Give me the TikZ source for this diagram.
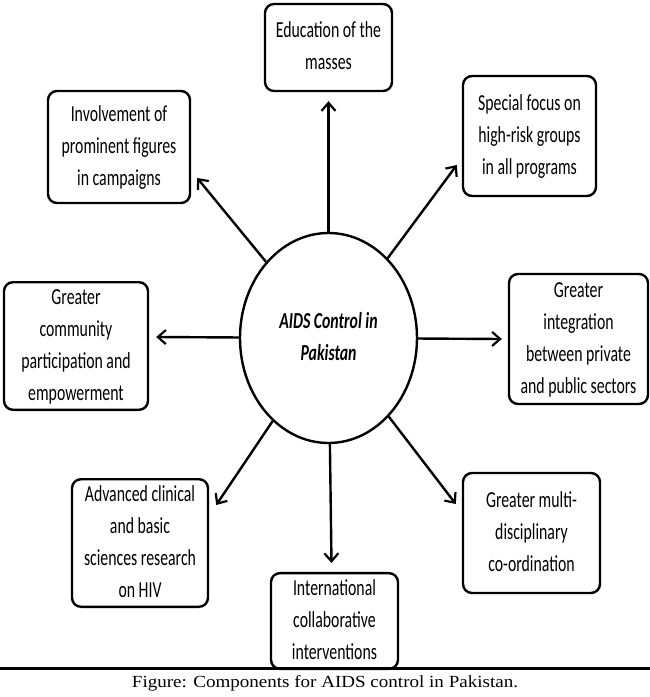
\documentclass[tikz,border=0pt]{standalone}
\usepackage{fontspec}
\setmainfont{Carlito}
\newfontfamily\capfont{Liberation Serif}
\usetikzlibrary{arrows.meta,shapes.geometric}
\newcommand{\bt}[1]{\scalebox{1}[1.45]{\fontsize{15.8}{22}\selectfont\begin{tabular}{@{}c@{}}#1\end{tabular}}}
\tikzset{
  box/.style={draw, line width=2.4pt, rounded corners=9pt, inner sep=0pt, align=center},
  conn/.style={line width=2.4pt, -{Straight Barb[length=8pt,width=14pt,line width=2.2pt]}},
}
\begin{document}
\begin{tikzpicture}[x=1pt,y=-1pt]
\useasboundingbox (0,0) rectangle (650,697);
\fill[white] (0,0) rectangle (650,697);
\node[draw, ellipse, line width=2.4pt, minimum width=177pt, minimum height=210pt, inner sep=0pt] (c) at (328.5,338) {\bt{\bfseries\itshape AIDS Control in\\\bfseries\itshape Pakistan}};
\node[box, minimum width=127pt, minimum height=87pt] (edu) at (328.5,47.5) {\bt{Education of the\\masses}};
\node[box, minimum width=142pt, minimum height=112pt] (inv) at (119,147) {\bt{Involvement of\\prominent figures\\in campaigns}};
\node[box, minimum width=133pt, minimum height=120pt] (spe) at (529.5,136) {\bt{Special focus on\\high-risk groups\\in all programs}};
\node[box, minimum width=144pt, minimum height=126pt] (com) at (76,346) {\bt{Greater\\community\\participation and\\empowerment}};
\node[box, minimum width=139pt, minimum height=130pt] (int) at (578.5,339) {\bt{Greater\\integration\\between private\\and public sectors}};
\node[box, minimum width=136pt, minimum height=120pt] (adv) at (140,543) {\bt{Advanced clinical\\and basic\\sciences research\\on HIV}};
\node[box, minimum width=127pt, minimum height=88pt] (itl) at (334.5,621) {\bt{International\\collaborative\\interventions}};
\node[box, minimum width=137pt, minimum height=120pt] (mul) at (531.5,533) {\bt{Greater multi-\\disciplinary\\co-ordination}};
\draw[conn] (c) -- ([yshift=-9pt]edu.south);
\draw[conn] (c) -- ([xshift=6pt,yshift=-31pt]inv.east);
\draw[conn] (c) -- ([xshift=-5pt,yshift=-29pt]spe.west);
\draw[conn] (c) -- ([xshift=7pt,yshift=9pt]com.east);
\draw[conn] (c) -- ([xshift=-6pt]int.west);
\draw[conn] (c) -- ([xshift=7pt,yshift=38pt]adv.east);
\draw[conn] (c) -- ([xshift=-3pt,yshift=9pt]itl.north);
\draw[conn] (c) -- ([xshift=-6pt,yshift=29pt]mul.west);
\coordinate (l1) at (0,668);
\coordinate (l2) at (650,668);
\draw[line width=3pt] (l1) -- (l2);
\node[font=\capfont\fontsize{17}{19}\selectfont] (cap) at (325,683) {\scalebox{1.12}[1]{Figure: Components for AIDS control in Pakistan.}};
\end{tikzpicture}
\end{document}
